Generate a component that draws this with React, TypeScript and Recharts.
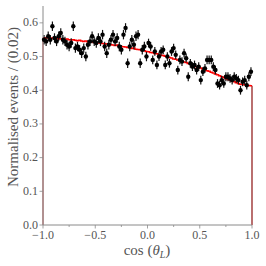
import React from "react";
import {
  ComposedChart,
  ErrorBar,
  Line,
  Scatter,
  XAxis,
  YAxis,
} from "recharts";

// cos(theta_L) histogram, 100 bins of width 0.02 on [-1, 1]
const X_MIN = -1;
const X_MAX = 1;
const BIN_WIDTH = 0.02;

// measured normalised counts per bin (left to right)
const DATA_VALUES = [
  0.55, 0.545, 0.56, 0.55, 0.59, 0.555, 0.545, 0.56, 0.57, 0.55,
  0.545, 0.535, 0.53, 0.54, 0.59, 0.525, 0.53, 0.52, 0.51, 0.525,
  0.5, 0.535, 0.545, 0.56, 0.545, 0.54, 0.555, 0.545, 0.565, 0.53,
  0.51, 0.535, 0.55, 0.565, 0.545, 0.555, 0.53, 0.52, 0.565, 0.585,
  0.48, 0.53, 0.55, 0.535, 0.56, 0.565, 0.48, 0.52, 0.53, 0.5,
  0.54, 0.53, 0.49, 0.515, 0.475, 0.5, 0.515, 0.52, 0.475, 0.5,
  0.48, 0.515, 0.525, 0.505, 0.46, 0.49, 0.485, 0.51, 0.495, 0.44,
  0.48, 0.47, 0.475, 0.46, 0.47, 0.43, 0.455, 0.465, 0.49, 0.49,
  0.49, 0.47, 0.46, 0.42, 0.415, 0.43, 0.42, 0.44, 0.44, 0.435,
  0.43, 0.44, 0.435, 0.43, 0.4, 0.425, 0.43, 0.415, 0.44, 0.455,
];

// statistical uncertainty per bin (roughly constant)
const DATA_ERRORS = [
  0.014, 0.014, 0.014, 0.014, 0.014, 0.014, 0.014, 0.014, 0.014, 0.014,
  0.014, 0.014, 0.014, 0.014, 0.014, 0.014, 0.014, 0.014, 0.014, 0.014,
  0.014, 0.014, 0.014, 0.014, 0.014, 0.014, 0.014, 0.014, 0.014, 0.014,
  0.014, 0.014, 0.014, 0.014, 0.014, 0.014, 0.014, 0.014, 0.014, 0.014,
  0.014, 0.014, 0.014, 0.014, 0.014, 0.014, 0.014, 0.014, 0.014, 0.014,
  0.013, 0.013, 0.013, 0.013, 0.013, 0.013, 0.013, 0.013, 0.013, 0.013,
  0.013, 0.013, 0.013, 0.013, 0.013, 0.013, 0.013, 0.013, 0.013, 0.013,
  0.013, 0.013, 0.013, 0.013, 0.013, 0.013, 0.013, 0.013, 0.013, 0.013,
  0.013, 0.013, 0.013, 0.013, 0.013, 0.013, 0.013, 0.013, 0.013, 0.013,
  0.013, 0.013, 0.013, 0.013, 0.013, 0.013, 0.013, 0.013, 0.013, 0.013,
];

// model prediction per bin (red step histogram)
const MODEL_VALUES = [
  0.556, 0.555, 0.556, 0.554, 0.555, 0.553, 0.554, 0.552, 0.553, 0.552,
  0.551, 0.552, 0.55, 0.549, 0.55, 0.548, 0.547, 0.548, 0.546, 0.545,
  0.546, 0.544, 0.543, 0.544, 0.542, 0.541, 0.54, 0.541, 0.539, 0.538,
  0.537, 0.538, 0.535, 0.534, 0.533, 0.534, 0.531, 0.53, 0.529, 0.528,
  0.527, 0.526, 0.524, 0.525, 0.522, 0.521, 0.52, 0.518, 0.517, 0.515,
  0.514, 0.512, 0.511, 0.509, 0.508, 0.506, 0.504, 0.503, 0.501, 0.499,
  0.497, 0.496, 0.493, 0.492, 0.49, 0.488, 0.486, 0.484, 0.482, 0.479,
  0.477, 0.475, 0.473, 0.47, 0.468, 0.466, 0.463, 0.461, 0.458, 0.456,
  0.453, 0.451, 0.448, 0.446, 0.443, 0.44, 0.438, 0.435, 0.432, 0.43,
  0.427, 0.425, 0.422, 0.42, 0.418, 0.417, 0.416, 0.415, 0.414, 0.413,
];

const X_TICKS = [-1, -0.75, -0.5, -0.25, 0, 0.25, 0.5, 0.75, 1];
const Y_TICKS = [0, 0.1, 0.2, 0.3, 0.4, 0.5, 0.6];

const FONT = "Liberation Serif";
const AXIS = "#8a8a8a";
const TEXT = "#555";

const points = DATA_VALUES.map((y, i) => ({
  x: X_MIN + BIN_WIDTH * (i + 0.5),
  y,
  err: DATA_ERRORS[i],
  xerr: BIN_WIDTH / 2,
}));

const lastModel = MODEL_VALUES[MODEL_VALUES.length - 1];

// step outline across the bins
const modelSteps = [
  ...MODEL_VALUES.map((y, i) => ({ x: X_MIN + BIN_WIDTH * i, y })),
  { x: X_MAX, y: lastModel },
];
// the histogram's closing edges down to zero
const leftEdge = [{ x: X_MIN, y: 0 }, { x: X_MIN, y: MODEL_VALUES[0] }];
const rightEdge = [{ x: X_MAX, y: lastModel }, { x: X_MAX, y: 0 }];

const fmt = (v: number) => (v < 0 ? "\u2212" : "") + Math.abs(v).toFixed(1);

function XTick({ x, y, payload }: any) {
  const v = payload.value as number;
  const major = Math.abs(v * 2 - Math.round(v * 2)) < 1e-6;
  return (
    <g>
      <line x1={x} x2={x} y1={y} y2={y + (major ? 3.5 : 2)} stroke={AXIS} strokeWidth={0.8} />
      {major && (
        <text x={x} y={y + 14} textAnchor="middle" fill={TEXT} fontSize={12} style={{ fontFamily: FONT }}>
          {fmt(v)}
        </text>
      )}
    </g>
  );
}

function YTick({ x, y, payload }: any) {
  return (
    <g>
      <line x1={x - 3.5} x2={x} y1={y} y2={y} stroke={AXIS} strokeWidth={0.8} />
      <text x={x - 5} y={y + 3.5} textAnchor="end" fill={TEXT} fontSize={12} style={{ fontFamily: FONT }}>
        {(payload.value as number).toFixed(1)}
      </text>
    </g>
  );
}

function YLabel() {
  return (
    <text
      x={13}
      y={107}
      transform="rotate(-90 13 107)"
      textAnchor="middle"
      dominantBaseline="central"
      fill={TEXT}
      fontSize={15}
      style={{ fontFamily: FONT }}
    >
      Normalised events / (0.02)
    </text>
  );
}

function XLabel() {
  return (
    <text x={147} y={255} textAnchor="middle" fill={TEXT} fontSize={15} style={{ fontFamily: FONT }}>
      cos (<tspan fontStyle="italic">θ</tspan>
      <tspan fontStyle="italic" fontSize={10} dy={3}>L</tspan>
      <tspan dy={-3}>)</tspan>
    </text>
  );
}

const Dot = ({ cx, cy }: any) => <circle cx={cx} cy={cy} r={2.2} fill="#000" />;

export default function App() {
  return (
    <div style={{ position: "absolute", left: 0, top: 0, background: "#fff" }}>
      <ComposedChart width={266} height={266} margin={{ top: 6, right: 14, bottom: 11, left: 0 }}>
        <XAxis
          dataKey="x"
          type="number"
          domain={[X_MIN, X_MAX]}
          ticks={X_TICKS}
          interval={0}
          tick={<XTick />}
          tickLine={false}
          tickSize={0}
          tickMargin={0}
          height={30}
          axisLine={{ stroke: AXIS }}
          label={<XLabel />}
        />
        <XAxis
          xAxisId="top"
          orientation="top"
          type="number"
          domain={[X_MIN, X_MAX]}
          height={0}
          tick={false}
          tickLine={false}
          axisLine={{ stroke: AXIS }}
        />
        <YAxis
          type="number"
          domain={[0, 0.65]}
          ticks={Y_TICKS}
          interval={0}
          tick={<YTick />}
          tickLine={false}
          tickSize={0}
          tickMargin={0}
          width={43}
          axisLine={{ stroke: AXIS }}
          label={<YLabel />}
        />
        <YAxis
          yAxisId="right"
          orientation="right"
          type="number"
          domain={[0, 0.65]}
          width={0}
          tick={false}
          tickLine={false}
          axisLine={{ stroke: AXIS }}
        />
        <Line data={leftEdge} dataKey="y" stroke="#b03030" strokeWidth={1} dot={false} isAnimationActive={false} />
        <Line data={rightEdge} dataKey="y" stroke="#8b1010" strokeWidth={1.2} dot={false} isAnimationActive={false} />
        <Line
          data={modelSteps}
          dataKey="y"
          type="stepAfter"
          stroke="#f00"
          strokeWidth={1.5}
          dot={false}
          isAnimationActive={false}
        />
        <Scatter data={points} dataKey="y" shape={<Dot />} isAnimationActive={false}>
          <ErrorBar dataKey="err" direction="y" width={0} stroke="#111" strokeWidth={1.2} isAnimationActive={false} />
          <ErrorBar dataKey="xerr" direction="x" width={0} stroke="#111" strokeWidth={1.2} isAnimationActive={false} />
        </Scatter>
      </ComposedChart>
    </div>
  );
}
